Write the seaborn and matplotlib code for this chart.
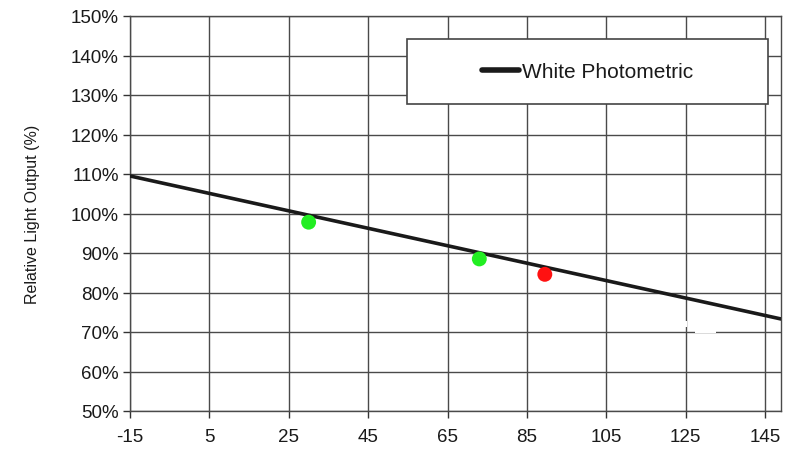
import matplotlib
matplotlib.use("Agg")
import matplotlib.pyplot as plt
import seaborn as sns
import pandas as pd
from matplotlib.patches import Rectangle
from matplotlib.ticker import FuncFormatter

# Data
line_temp = [-15, 149]
line_output = [109.5, 73.3]
point_temp = [30, 73, 89.5]
point_output = [97.8, 88.5, 84.6]
point_status = ["ok", "ok", "fail"]
x_ticks = [-15, 5, 25, 45, 65, 85, 105, 125, 145]
y_ticks = [50, 60, 70, 80, 90, 100, 110, 120, 130, 140, 150]

sns.set_style("white")
plt.rcParams['font.family'] = ['Liberation Sans', 'DejaVu Sans']
plt.rcParams['axes.unicode_minus'] = False

fig = plt.figure(figsize=(7.85, 4.52), dpi=100)
ax = fig.add_axes([130/785, 1 - 412/452, 651/785, 395/452])

line_df = pd.DataFrame({"temp": line_temp, "output": line_output, "series": ["White Photometric"] * 2})
pts_df = pd.DataFrame({"temp": point_temp, "output": point_output, "status": point_status})

ax.set_xlim(-15, 149)
ax.set_ylim(50, 150)
ax.set_xticks(x_ticks)
ax.set_yticks(y_ticks)
ax.grid(True, color="#4a4a4a", linewidth=1.0)
ax.set_axisbelow(True)

sns.lineplot(data=line_df, x="temp", y="output", hue="series", palette=["#1a1a1a"],
             linewidth=2.6, ax=ax, zorder=3)
sns.scatterplot(data=pts_df, x="temp", y="output", hue="status",
                palette={"ok": "#22ee22", "fail": "#ff1111"}, s=115, edgecolor="none",
                ax=ax, legend=False, zorder=4)

ax.yaxis.set_major_formatter(FuncFormatter(lambda v, p: f"{int(v)}%"))
ax.tick_params(axis="both", direction="out", length=5, width=1, color="#333333",
               labelsize=13.5, labelcolor="#1a1a1a", left=True, bottom=True)
ax.tick_params(axis="x", pad=7)
ax.tick_params(axis="y", pad=3)
for sp in ax.spines.values():
    sp.set_color("#4a4a4a")
    sp.set_linewidth(1.0)

ax.set_xlabel("")
ax.set_ylabel("Relative Light Output (%)", fontsize=11.5, color="#1a1a1a", labelpad=22)

# small white gaps visible in the original grid
ax.add_patch(Rectangle((0.868, 0.197), 0.032, 0.007, transform=ax.transAxes,
                       facecolor="white", edgecolor="none", zorder=2))
ax.add_patch(Rectangle((0.850, 0.212), 0.005, 0.015, transform=ax.transAxes,
                       facecolor="white", edgecolor="none", zorder=2))

# Legend box
rect = Rectangle((0.425, 0.777), 0.555, 0.165, transform=ax.transAxes,
                 facecolor="white", edgecolor="#444444", linewidth=1.2, zorder=5)
ax.add_patch(rect)
handles, labels = ax.get_legend_handles_labels()
leg = ax.legend(handles, labels, loc="center", bbox_to_anchor=(0.7025, 0.8595),
                frameon=False, fontsize=15, handlelength=1.8, handletextpad=0.1)
leg.set_zorder(6)
for t in leg.get_texts():
    t.set_color("#1a1a1a")
for h in leg.get_lines():
    h.set_linewidth(4)
    h.set_solid_capstyle("round")

fig.savefig("out.png", dpi=100)
